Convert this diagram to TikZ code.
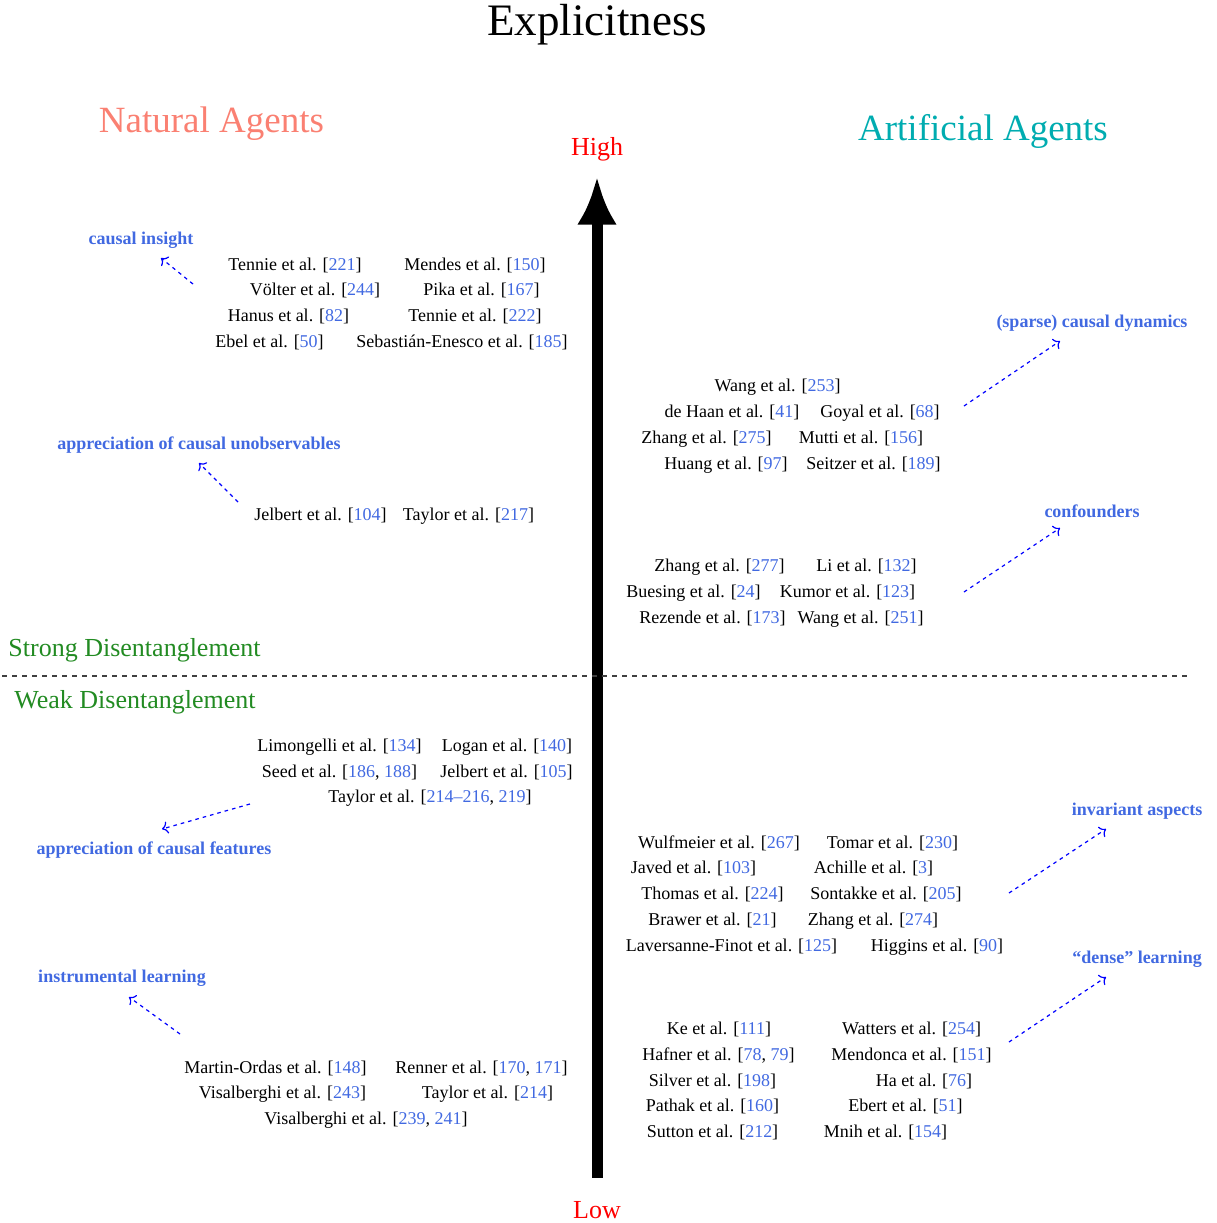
\documentclass[tikz,border=0pt]{standalone}
\usepackage{fontspec}
\setmainfont{Liberation Serif}
\usepackage{xcolor}
\usepackage{tikz}
\usetikzlibrary{arrows.meta}

\definecolor{citeblue}{RGB}{65,105,225}
\definecolor{natural}{RGB}{250,128,114}
\definecolor{artificial}{RGB}{0,172,176}
\definecolor{bandgreen}{RGB}{34,139,34}
\newcommand{\cnum}[1]{\textcolor{citeblue}{#1}}

\begin{document}
\begin{tikzpicture}[x=0.5pt,y=-0.5pt,
  cite/.style={font=\fontsize{9}{11}\selectfont, inner sep=0pt, yshift=-0.9pt},
  topic/.style={font=\fontsize{9}{11}\selectfont\bfseries, text=citeblue, inner sep=0pt, yshift=-0.9pt},
  link/.style={->, blue, line width=0.6pt, dash pattern=on 1.8pt off 2pt},
  axislabel/.style={font=\fontsize{13}{15}\selectfont, text=red, inner sep=0pt},
  regionlabel/.style={font=\fontsize{13}{15}\selectfont, text=bandgreen, inner sep=0pt},
  agents/.style={font=\fontsize{18.5}{22}\selectfont, inner sep=0pt}]
\useasboundingbox (0,0) rectangle (1217,1223);

\node[font=\fontsize{22.5}{27}\selectfont, inner sep=0pt] (explicit) at (597,25) {Explicitness};
\node[agents, text=natural] (natural) at (211.5,123.5) {Natural Agents};
\node[agents, text=artificial] (artificial) at (983,131) {Artificial Agents};

\node[axislabel] (high) at (597,149.5) {High};
\node[axislabel] (low) at (597,1210) {Low};
\draw[line width=5.5pt, -{Latex[length=24pt,width=20pt]}, shorten <=11.5pt, shorten >=7.5pt] (low) -- (high);

\draw[black!75, line width=1pt, dash pattern=on 2.5pt off 2.5pt] (2,676) -- (1188,676);
\node[regionlabel] (strong) at (134.5,650) {Strong Disentanglement};
\node[regionlabel] (weak) at (135,702) {Weak Disentanglement};

% natural agents, strong
\node[topic] (insight) at (141,238) {causal insight};
\node[cite] (tennie221) at (295,264) {Tennie et al. [\cnum{221}]};
\node[cite] (mendes150) at (475,264) {Mendes et al. [\cnum{150}]};
\node[cite] (volter244) at (315,289) {Völter et al. [\cnum{244}]};
\node[cite] (pika167) at (481.5,289) {Pika et al. [\cnum{167}]};
\node[cite] (hanus82) at (288.5,315) {Hanus et al. [\cnum{82}]};
\node[cite] (tennie222) at (475,315) {Tennie et al. [\cnum{222}]};
\node[cite] (ebel50) at (269.5,341) {Ebel et al. [\cnum{50}]};
\node[cite] (sebastian185) at (462,341) {Sebastián-Enesco et al. [\cnum{185}]};
\coordinate (insight-from) at (193,284);
\coordinate (insight-to) at (161,258);
\draw[link] (insight-from) -- (insight-to);

\node[topic] (unobservables) at (199,443) {appreciation of causal unobservables};
\node[cite] (jelbert104) at (320.5,514) {Jelbert et al. [\cnum{104}]};
\node[cite] (taylor217) at (468.5,514) {Taylor et al. [\cnum{217}]};
\coordinate (unobservables-from) at (238,502);
\coordinate (unobservables-to) at (199,463);
\draw[link] (unobservables-from) -- (unobservables-to);

% artificial agents, strong
\node[topic] (dynamics) at (1092,321) {(sparse) causal dynamics};
\node[cite] (wang253) at (777.5,385) {Wang et al. [\cnum{253}]};
\node[cite] (dehaan41) at (732,411) {de Haan et al. [\cnum{41}]};
\node[cite] (goyal68) at (880,411) {Goyal et al. [\cnum{68}]};
\node[cite] (zhang275) at (706.5,437) {Zhang et al. [\cnum{275}]};
\node[cite] (mutti156) at (861,437) {Mutti et al. [\cnum{156}]};
\node[cite] (huang97) at (726,463) {Huang et al. [\cnum{97}]};
\node[cite] (seitzer189) at (873.5,463) {Seitzer et al. [\cnum{189}]};
\coordinate (dynamics-from) at (964,406);
\coordinate (dynamics-to) at (1060,341);
\draw[link] (dynamics-from) -- (dynamics-to);

\node[topic] (confounders) at (1092,509) {confounders};
\node[cite] (zhang277) at (719.5,565) {Zhang et al. [\cnum{277}]};
\node[cite] (li132) at (866.5,565) {Li et al. [\cnum{132}]};
\node[cite] (buesing24) at (693.5,591) {Buesing et al. [\cnum{24}]};
\node[cite] (kumor123) at (847.5,591) {Kumor et al. [\cnum{123}]};
\node[cite] (rezende173) at (712.5,617) {Rezende et al. [\cnum{173}]};
\node[cite] (wang251) at (860.5,617) {Wang et al. [\cnum{251}]};
\coordinate (confounders-from) at (964,592);
\coordinate (confounders-to) at (1060,528);
\draw[link] (confounders-from) -- (confounders-to);

% natural agents, weak
\node[topic] (features) at (154,848) {appreciation of causal features};
\node[cite] (limongelli134) at (339.5,745) {Limongelli et al. [\cnum{134}]};
\node[cite] (logan140) at (507,745) {Logan et al. [\cnum{140}]};
\node[cite] (seed186) at (339.5,771) {Seed et al. [\cnum{186}, \cnum{188}]};
\node[cite] (jelbert105) at (506.5,771) {Jelbert et al. [\cnum{105}]};
\node[cite] (taylor214a) at (430,796) {Taylor et al. [\cnum{214--216}, \cnum{219}]};
\coordinate (features-from) at (250,804);
\coordinate (features-to) at (162,829);
\draw[link] (features-from) -- (features-to);

\node[topic] (instrumental) at (122,976) {instrumental learning};
\node[cite] (martinordas148) at (275.5,1067) {Martin-Ordas et al. [\cnum{148}]};
\node[cite] (renner170) at (481.5,1067) {Renner et al. [\cnum{170}, \cnum{171}]};
\node[cite] (visalberghi243) at (282.5,1092) {Visalberghi et al. [\cnum{243}]};
\node[cite] (taylor214) at (487.5,1092) {Taylor et al. [\cnum{214}]};
\node[cite] (visalberghi239) at (366,1118) {Visalberghi et al. [\cnum{239}, \cnum{241}]};
\coordinate (instrumental-from) at (180,1034);
\coordinate (instrumental-to) at (129,997);
\draw[link] (instrumental-from) -- (instrumental-to);

% artificial agents, weak
\node[topic] (invariant) at (1137,809) {invariant aspects};
\node[cite] (wulfmeier267) at (719,842) {Wulfmeier et al. [\cnum{267}]};
\node[cite] (tomar230) at (892.5,842) {Tomar et al. [\cnum{230}]};
\node[cite] (javed103) at (693.5,867) {Javed et al. [\cnum{103}]};
\node[cite] (achille3) at (873.5,867) {Achille et al. [\cnum{3}]};
\node[cite] (thomas224) at (712.5,893) {Thomas et al. [\cnum{224}]};
\node[cite] (sontakke205) at (886,893) {Sontakke et al. [\cnum{205}]};
\node[cite] (brawer21) at (712.5,919) {Brawer et al. [\cnum{21}]};
\node[cite] (zhang274) at (873,919) {Zhang et al. [\cnum{274}]};
\node[cite] (laversanne125) at (731.5,945) {Laversanne-Finot et al. [\cnum{125}]};
\node[cite] (higgins90) at (937,945) {Higgins et al. [\cnum{90}]};
\coordinate (invariant-from) at (1009,893);
\coordinate (invariant-to) at (1106,829);
\draw[link] (invariant-from) -- (invariant-to);

\node[topic] (dense) at (1137,957) {“dense” learning};
\node[cite] (ke111) at (719,1028) {Ke et al. [\cnum{111}]};
\node[cite] (watters254) at (911.5,1028) {Watters et al. [\cnum{254}]};
\node[cite] (hafner78) at (718.5,1054) {Hafner et al. [\cnum{78}, \cnum{79}]};
\node[cite] (mendonca151) at (911.5,1054) {Mendonca et al. [\cnum{151}]};
\node[cite] (silver198) at (712.5,1080) {Silver et al. [\cnum{198}]};
\node[cite] (ha76) at (924,1080) {Ha et al. [\cnum{76}]};
\node[cite] (pathak160) at (712.5,1105) {Pathak et al. [\cnum{160}]};
\node[cite] (ebert51) at (905.5,1105) {Ebert et al. [\cnum{51}]};
\node[cite] (sutton212) at (712.5,1131) {Sutton et al. [\cnum{212}]};
\node[cite] (mnih154) at (885.5,1131) {Mnih et al. [\cnum{154}]};
\coordinate (dense-from) at (1009,1042);
\coordinate (dense-to) at (1106,977);
\draw[link] (dense-from) -- (dense-to);
\end{tikzpicture}
\end{document}
